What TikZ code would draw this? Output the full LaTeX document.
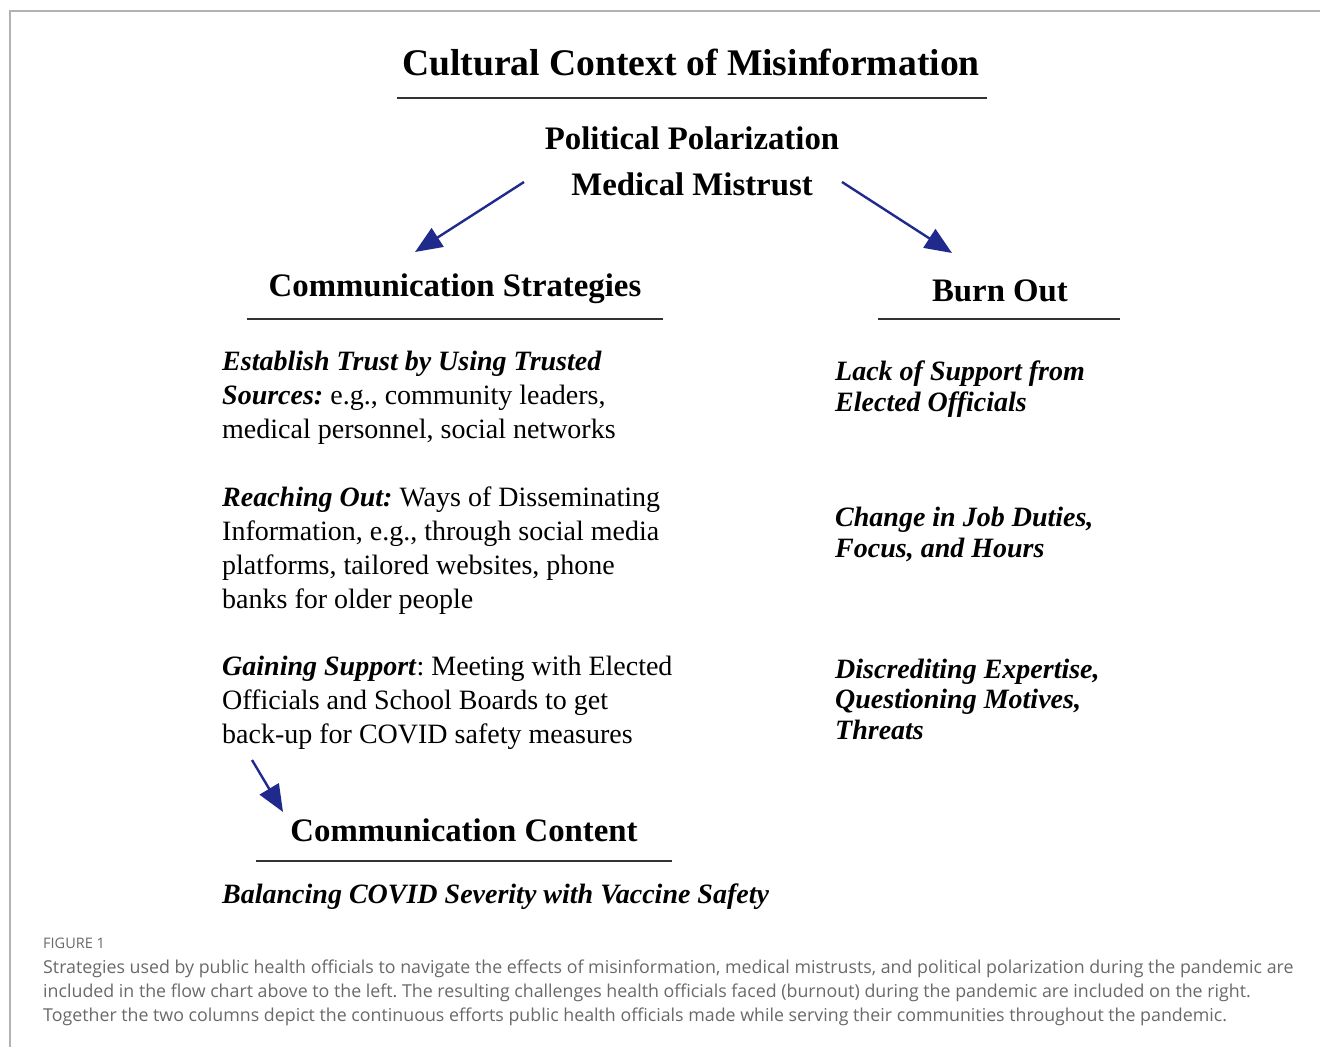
\documentclass[tikz,border=0pt]{standalone}
\usepackage{fontspec}
\setmainfont{Liberation Serif}
\newfontfamily\capfont{Open Sans}
\usetikzlibrary{arrows.meta}
\definecolor{arrowblue}{RGB}{32,42,140}
\definecolor{capgray}{RGB}{105,105,105}
\frenchspacing
\tikzset{
    title/.style = {anchor=base, inner sep=0pt, font=\fontsize{37.6}{40}\selectfont\bfseries},
    heading/.style = {anchor=base, inner sep=0pt, font=\fontsize{32.8}{36}\selectfont\bfseries},
    % multi-line nodes sit on the baseline of their last line
    bodytext/.style = {anchor=base west, inner sep=0pt, align=left, font=\fontsize{28}{34}\selectfont},
    burntext/.style = {anchor=base west, inner sep=0pt, align=left, font=\fontsize{28}{30.5}\selectfont\bfseries\itshape},
    rule/.style = {line width=2pt, draw=black!80},
    edgeb/.style = {-{Triangle[length=27pt,width=22pt]}, line width=2.4pt, arrowblue},
    frameline/.style = {line width=2pt, draw=black!30},
    captext/.style = {anchor=base west, inner sep=0pt, align=left, text=capgray, font=\capfont\fontsize{17.8}{24}\selectfont}
}

\begin{document}
\begin{tikzpicture}[x=1pt,y=-1pt]
\useasboundingbox (0,0) rectangle (1320,1047);
\draw[frameline] (1320,11) -- (10,11) -- (10,1047);
%
\node[title] at (691,75) (ctx) {Cultural Context of Misinformation};
\draw[rule] (397,98) -- (987,98);
\node[heading] at (692,149) (pol) {Political Polarization};
\node[heading] at (692,195) (mis) {Medical Mistrust};
%
\node[heading] at (455,296) (strat) {Communication Strategies};
\draw[rule] (247,319) -- (663,319);
\node[heading] at (1000,301) (burn) {Burn Out};
\draw[rule] (878,319) -- (1120,319);
%
\node[bodytext] at (222,438) (trust) {\textbf{\textit{Establish Trust by Using Trusted}}\\\textbf{\textit{Sources:}} e.g., community leaders,\\medical personnel, social networks};
\node[bodytext] at (222,608) (reach) {\textbf{\textit{Reaching Out:}} Ways of Disseminating\\Information, e.g., through social media\\platforms, tailored websites, phone\\banks for older people};
\node[bodytext] at (222,743) (support) {\textbf{\textit{Gaining Support}}: Meeting with Elected\\Officials and School Boards to get\\back-up for COVID safety measures};
%
\node[burntext] at (835,411) (lack) {Lack of Support from\\Elected Officials};
\node[burntext] at (835,557) (duty) {Change in Job Duties,\\Focus, and Hours};
\node[burntext] at (835,739) (disc) {Discrediting Expertise,\\Questioning Motives,\\Threats};
%
\node[heading] at (464,841) (content) {Communication Content};
\draw[rule] (256,861) -- (672,861);
\node[bodytext, font=\fontsize{28}{34}\selectfont\bfseries\itshape] at (222,903) (balance) {Balancing COVID Severity with Vaccine Safety};
%
\coordinate (l0) at (524,182);
\coordinate (l1) at (415,252);
\coordinate (r0) at (842,182);
\coordinate (r1) at (952,253);
\coordinate (c0) at (252,760);
\coordinate (c1) at (283,812);
\draw[edgeb] (l0) -- (l1);
\draw[edgeb] (r0) -- (r1);
\draw[edgeb] (c0) -- (c1);
%
\node[captext, font=\capfont\fontsize{14.5}{16}\selectfont] at (43,948) (fig) {FIGURE 1};
\node[captext] at (43,1021) (cap) {Strategies used by public health officials to navigate the effects of misinformation, medical mistrusts, and political polarization during the pandemic are\\included in the flow chart above to the left. The resulting challenges health officials faced (burnout) during the pandemic are included on the right.\\Together the two columns depict the continuous efforts public health officials made while serving their communities throughout the pandemic.};

\end{tikzpicture}
\end{document}
